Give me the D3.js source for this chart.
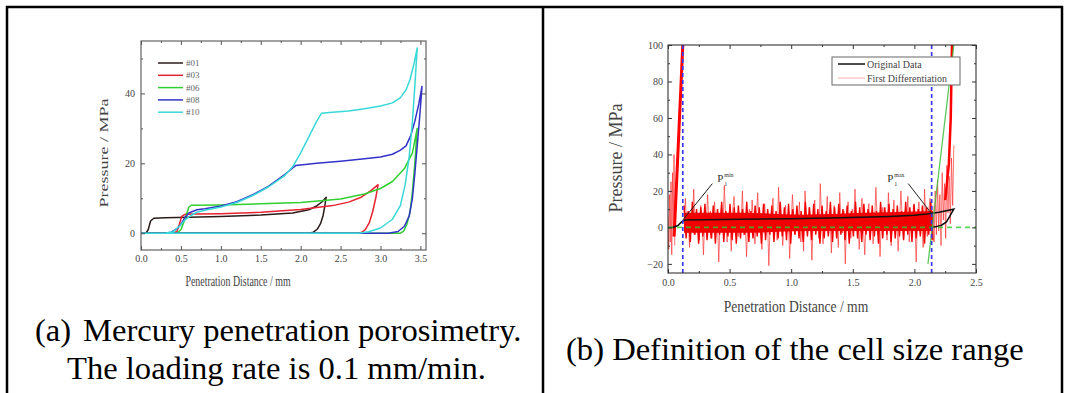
<!DOCTYPE html>
<html><head><meta charset="utf-8">
<script src="https://cdn.jsdelivr.net/npm/d3@7"></script>
<style>
body{margin:0;background:#fff}
svg{display:block}
text{font-family:"Liberation Serif","Times New Roman",serif}
</style>
</head><body>
<svg id="c" width="1069" height="393"></svg>
<script>
// ---------------- DATA: panel (a) ----------------
const seriesNamesA = ["#01", "#03", "#06", "#08", "#10"];
const xTicksA = [0, 0.5, 1.0, 1.5, 2.0, 2.5, 3.0, 3.5];
const yTicksA = [0, 20, 40];
// [distance mm, pressure MPa] : loading then unloading back along zero
const s01 = [[0,0],[0.06,0],[0.09,1],[0.12,3.5],[0.16,4.3],[0.3,4.4],[0.6,4.6],[1.0,4.8],[1.5,5.2],[1.9,5.8],[2.1,6.7],[2.2,7.8],[2.27,9],[2.32,10.3],
             [2.30,7.5],[2.28,5],[2.25,2.8],[2.21,1.2],[2.16,0.3],[2.1,0],[0,0]];
const s03 = [[0,0],[0.4,0],[0.45,0.5],[0.48,2.5],[0.51,4.8],[0.55,5.4],[0.7,5.5],[1.0,5.6],[1.5,6.0],[2.0,6.8],[2.4,7.9],[2.6,8.9],[2.75,10.2],[2.88,12.2],[2.97,13.9],
             [2.94,10],[2.9,6],[2.86,3],[2.81,1],[2.76,0.2],[2.7,0],[0,0]];
const s06 = [[0,0],[0.45,0],[0.5,1],[0.55,4],[0.6,7.5],[0.63,8],[1.0,8.1],[1.5,8.4],[2.0,8.8],[2.5,9.8],[2.8,11.2],[3.0,12.8],[3.15,14.8],[3.3,18.5],[3.4,23],[3.46,30],
             [3.43,20],[3.40,12],[3.37,6],[3.33,2.5],[3.29,0.6],[3.25,0],[0,0]];
const s08 = [[0,0],[0.3,0],[0.38,0.3],[0.45,1.3],[0.5,2.5],[0.55,4.5],[0.6,5.8],[0.7,6.7],[0.8,7.0],[1.0,7.8],[1.2,9],[1.4,11],[1.6,13.5],[1.8,16.8],[1.94,19.4],[2.2,20],[2.5,20.6],[2.8,21.3],[3.0,21.8],[3.15,22.6],[3.25,23.8],[3.32,25],[3.38,28],[3.43,32],[3.48,37],[3.52,42],
             [3.49,33],[3.46,25],[3.43,17],[3.40,10],[3.36,5],[3.3,2],[3.22,0.5],[3.1,0],[0,0]];
const s10 = [[0,0],[0.3,0],[0.4,0.4],[0.48,2],[0.55,3.8],[0.62,5],[0.7,6.0],[0.8,6.6],[1.0,7.5],[1.2,8.8],[1.4,10.8],[1.6,13.3],[1.8,16.5],[1.9,19],[2.0,23],[2.1,27.5],[2.2,32],[2.26,34.3],[2.4,34.6],[2.6,35],[2.8,35.6],[3.0,36.4],[3.15,37.3],[3.25,38.8],[3.32,41],[3.37,44],[3.42,48.5],[3.46,53],
             [3.43,42],[3.40,32],[3.36,22],[3.31,14],[3.25,8],[3.15,4],[3.0,1.5],[2.85,0.4],[2.72,0],[0,0]];

// ---------------- DATA: panel (b) ----------------
const xTicksB = [0, 0.5, 1.0, 1.5, 2.0, 2.5];
const yTicksB = [-20, 0, 20, 40, 60, 80, 100];
const originalB = [[0,0],[0.04,0],[0.08,1],[0.11,3],[0.14,4],[0.3,4.2],[0.6,4.4],[1.0,4.8],[1.4,5.3],[1.8,6],[2.0,6.6],[2.1,7.3],[2.2,8.3],[2.32,10],
                   [2.29,6.5],[2.26,3],[2.22,1.2],[2.17,0.3],[2.12,0]];
// first differentiation (noisy), stretches
const fdLeftRange = [0, 0.055];
const fdLeft = [6,-12,18,-8,25,-15,30,-5,40,-10];
const fdMidRange = [0.13, 2.15];
const fdMid = [
 3,16,-2,5,-11,8,2,21,-4,6,    1,-7,12,4,-15,7,3,18,-1,9,
 -6,2,14,-3,5,-19,6,11,0,23,   4,-8,7,2,-13,9,17,-2,5,-5,
 8,1,20,-4,3,-16,6,10,-1,15,   2,-9,5,19,-3,7,-12,4,13,0,
 6,-21,3,9,16,-2,5,-7,22,1,    7,-10,4,12,-3,6,-17,2,18,5,
 -4,9,1,14,-8,3,-13,20,6,-2,   11,4,-18,7,15,-1,5,-6,24,3,
 -9,6,2,17,-4,8,-14,3,12,0,    5,-11,19,2,-3,9,-20,6,14,4,
 -6,10,3,21,-2,7,-12,5,16,1,   -15,4,8,13,-5,6,-9,2,22,3,
 6,-16,4,11,-1,8,-7,19,3,-10,  5,15,-3,7,-13,2,20,4,-6,9,
 1,17,-8,6,-4,12,3,-19,8,14,   -2,5,-11,21,4,-5,9,16,-7,6];
const fdInnerRange = [0.13, 2.15];
const fdInner = [
 12,-6,9,-8,14,-4,10,-9,11,-5,  13,-7,8,-6,12,-9,10,-4,14,-8,
 9,-5,13,-7,11,-9,12,-6,10,-4,  14,-8,9,-6,12,-5,11,-9,13,-7,
 10,-4,12,-8,9,-6,14,-5,11,-7,  13,-9,10,-4,12,-6,9,-8,14,-5,
 11,-7,13,-4,10,-9,12,-6,9,-5,  14,-8,11,-6,13,-4,10,-7,12,-9,
 9,-5,14,-6,11,-8,13,-4,10,-7,  12,-5,9,-9,14,-6,11,-4,13,-8,
 10,-6,12,-5,9,-7,14,-4,11,-8,  13,-6,10,-5,12,-9,11,-4,14,-7];
const fdRightRange = [2.15, 2.32];
const fdRight = [12,-8,20,-4,26,-2,18,-10,30,4,24,-6,34,8,28,2,38,12,45];
const fdCoreX = [0.13, 0.6, 1.1, 1.6, 2.15];
const fdCoreHigh = [8, 8, 7, 8, 9];
const fdCoreLow = [-3, -3, -2, -2, -2];
const fdRiseLeft = [[0.05,-5],[0.07,25],[0.09,55],[0.11,85],[0.12,100]];
const fdRiseRight = [[2.25,15],[2.28,35],[2.295,60],[2.305,100]];
const tangentRight = [[2.11,-20],[2.32,100]];
const baselineB = [[0,0],[2.5,0]];
const cellLimitsB = [0.12, 2.14];
const annotMin = {label:[0.40,27], line:[[0.36,24],[0.12,4]]};
const annotMax = {label:[1.78,27], line:[[1.95,24],[2.14,7.5]]};

// ---------------- DRAW ----------------
const svg = d3.select("#c");
const FONT = '"Liberation Serif","Times New Roman",serif';

// table borders
const border = svg.append("g").attr("stroke","#000").attr("stroke-width",2.5);
border.append("line").attr("x1",6).attr("x2",1063).attr("y1",7).attr("y2",7);
[7, 543, 1062].forEach(x => border.append("line").attr("x1",x).attr("x2",x).attr("y1",6).attr("y2",393));

function axes(g, x, y, xt, xm, yt, ym, opt) {
  const [x0, x1] = x.range(), [y0, y1] = y.range();
  const col = opt.color;
  const fmtX = d3.format(".1f");
  g.append("g").attr("transform",`translate(0,${y0})`)
    .call(d3.axisBottom(x).tickValues(xt).tickSize(-4).tickPadding(opt.xpad).tickFormat(fmtX));
  g.append("g").attr("transform",`translate(0,${y0})`).call(d3.axisBottom(x).tickValues(xm).tickSize(-2).tickFormat(""));
  g.append("g").attr("transform",`translate(0,${y1})`).call(d3.axisTop(x).tickValues(xt).tickSize(-4).tickFormat(""));
  g.append("g").attr("transform",`translate(0,${y1})`).call(d3.axisTop(x).tickValues(xm).tickSize(-2).tickFormat(""));
  g.append("g").attr("transform",`translate(${x0},0)`)
    .call(d3.axisLeft(y).tickValues(yt).tickSize(-4).tickPadding(opt.ypad).tickFormat(d3.format("d")));
  g.append("g").attr("transform",`translate(${x0},0)`).call(d3.axisLeft(y).tickValues(ym).tickSize(-2).tickFormat(""));
  g.append("g").attr("transform",`translate(${x1},0)`).call(d3.axisRight(y).tickValues(yt).tickSize(-4).tickFormat(""));
  g.append("g").attr("transform",`translate(${x1},0)`).call(d3.axisRight(y).tickValues(ym).tickSize(-2).tickFormat(""));
  g.selectAll(".domain").remove();
  g.selectAll(".tick line").attr("stroke",col);
  g.selectAll(".tick text").attr("fill","#444").attr("font-family",FONT).attr("font-size",opt.fs);
  g.append("rect").attr("x",x0).attr("y",y1).attr("width",x1-x0).attr("height",y0-y1)
    .attr("fill","none").attr("stroke",col).attr("stroke-width",1.1);
}

// ---------- panel (a) ----------
const xA = d3.scaleLinear().domain([0, 3.57]).range([141, 426]);
const yA = d3.scaleLinear().domain([-4.8, 55]).range([250, 41]);
const gA = svg.append("g");
const colorsA = ["#2b1b1b","#e62330","#30d030","#3333c8","#38d8d8"];
const lineA = d3.line().x(d => xA(d[0])).y(d => yA(d[1]));
[s01, s03, s06, s08, s10].forEach((s, i) => {
  gA.append("path").attr("d", lineA(s)).attr("fill","none").attr("stroke",colorsA[i])
    .attr("stroke-width",1.5).attr("stroke-linejoin","round");
});
axes(gA, xA, yA, xTicksA, d3.range(0.25, 3.57, 0.5), yTicksA, [10, 30, 50], {color:"#555", xpad:5, ypad:6, fs:10});
// legend (a)
const legA = gA.append("g");
seriesNamesA.forEach((n, i) => {
  const yy = 63 + i * 12.3;
  legA.append("line").attr("x1",158).attr("x2",183).attr("y1",yy).attr("y2",yy)
    .attr("stroke",colorsA[i]).attr("stroke-width",1.5);
  legA.append("text").attr("x",186).attr("y",yy+3).attr("font-size",9).attr("fill","#666").text(n);
});
gA.append("text").attr("transform","translate(108,153) rotate(-90) scale(1,0.75)")
  .attr("text-anchor","middle").attr("font-size",18).attr("fill","#444").text("Pressure / MPa");
gA.append("text").attr("transform","translate(238,286) scale(0.66,1)")
  .attr("text-anchor","middle").attr("font-size",15).attr("fill","#444").text("Penetration Distance / mm");

// ---------- panel (b) ----------
const xB = d3.scaleLinear().domain([0, 2.5]).range([668, 976]);
const yB = d3.scaleLinear().domain([-25, 100]).range([273, 45]);
const gB = svg.append("g");
svg.append("clipPath").attr("id","clipB").append("rect")
  .attr("x",668).attr("y",45).attr("width",308).attr("height",228);
const pB = gB.append("g").attr("clip-path","url(#clipB)");
const lineB = d3.line().x(d => xB(d[0])).y(d => yB(d[1]));
const idxLine = (vals, range) => {
  const s = d3.scaleLinear().domain([0, vals.length - 1]).range(range);
  return vals.map((v, i) => [s(i), v]);
};
// outer spikes (lighter)
[[fdLeft, fdLeftRange], [fdMid, fdMidRange], [fdRight, fdRightRange]].forEach(([v, r]) => {
  pB.append("path").attr("d", lineB(idxLine(v, r))).attr("fill","none")
    .attr("stroke","#ff2a2a").attr("stroke-opacity",0.65).attr("stroke-width",1);
});
// dense inner noise
pB.append("path").attr("d", lineB(idxLine(fdInner, fdInnerRange))).attr("fill","none")
  .attr("stroke","#f20000").attr("stroke-width",1.4);
pB.append("path").attr("d", d3.area().x(d => xB(d[0])).y0(d => yB(d[1])).y1(d => yB(d[2]))
    .curve(d3.curveMonotoneX)(fdCoreX.map((x, i) => [x, fdCoreLow[i], fdCoreHigh[i]])))
  .attr("fill","#f00000");
pB.append("path").attr("d", lineB(fdRiseLeft)).attr("fill","none").attr("stroke","#f00").attr("stroke-width",3);
pB.append("path").attr("d", lineB(fdRiseRight)).attr("fill","none").attr("stroke","#f00").attr("stroke-width",2.5);
// original data
pB.append("path").attr("d", lineB(originalB)).attr("fill","none").attr("stroke","#111").attr("stroke-width",1.5);
// green baseline & tangent
pB.append("path").attr("d", lineB(baselineB)).attr("fill","none").attr("stroke","#2ecc2e")
  .attr("stroke-opacity",0.8).attr("stroke-width",1.6).attr("stroke-dasharray","5,4");
pB.append("path").attr("d", lineB(tangentRight)).attr("fill","none").attr("stroke","#40c040")
  .attr("stroke-opacity",0.85).attr("stroke-width",1.3);
// blue dashed cell-size limits
cellLimitsB.forEach(v => {
  pB.append("line").attr("x1",xB(v)).attr("x2",xB(v)).attr("y1",yB(-25)).attr("y2",yB(100))
    .attr("stroke","#3a3af0").attr("stroke-width",1.7).attr("stroke-dasharray","4,3");
});
// annotations
[[annotMin,"min"],[annotMax,"max"]].forEach(([a, sup]) => {
  pB.append("path").attr("d", lineB(a.line)).attr("stroke","#222").attr("stroke-width",1).attr("fill","none");
  const lx = xB(a.label[0]), ly = yB(a.label[1]);
  gB.append("text").attr("x",lx).attr("y",ly+4).attr("font-size",11).attr("fill","#333").text("P");
  gB.append("text").attr("x",lx+7).attr("y",ly-1).attr("font-size",6).attr("fill","#333").text(sup);
  gB.append("text").attr("x",lx+7).attr("y",ly+8).attr("font-size",6).attr("fill","#333").text("1");
});
axes(gB, xB, yB, xTicksB, d3.range(0.25, 2.5, 0.5), yTicksB, d3.range(-10, 100, 20), {color:"#333", xpad:6, ypad:5, fs:10});
// legend (b)
const legB = gB.append("g");
legB.append("rect").attr("x",832).attr("y",57).attr("width",128).attr("height",28)
  .attr("fill","#fff").attr("stroke","#666").attr("stroke-width",1);
legB.append("line").attr("x1",838).attr("x2",865).attr("y1",64).attr("y2",64).attr("stroke","#111").attr("stroke-width",1.5);
legB.append("line").attr("x1",838).attr("x2",865).attr("y1",78).attr("y2",78).attr("stroke","#f99").attr("stroke-width",0.8);
legB.append("text").attr("x",867).attr("y",67.5).attr("font-size",10).attr("fill","#444").text("Original Data");
legB.append("text").attr("x",867).attr("y",81.5).attr("font-size",10).attr("fill","#444").text("First Differentiation");
gB.append("text").attr("transform","translate(622,158) rotate(-90)")
  .attr("text-anchor","middle").attr("font-size",18).attr("fill","#444").text("Pressure / MPa");
gB.append("text").attr("transform","translate(796,312) scale(0.8,1)")
  .attr("text-anchor","middle").attr("font-size",17).attr("fill","#444").text("Penetration Distance / mm");

// ---------- captions ----------
const cap = svg.append("g").attr("fill","#000").attr("font-size",32.6);
cap.append("text").attr("x",35).attr("y",341).text("(a)");
cap.append("text").attr("x",83).attr("y",341).text("Mercury penetration porosimetry.");
cap.append("text").attr("x",67).attr("y",379).text("The loading rate is 0.1 mm/min.");
cap.append("text").attr("x",566).attr("y",360).text("(b) Definition of the cell size range");
</script>
</body></html>
